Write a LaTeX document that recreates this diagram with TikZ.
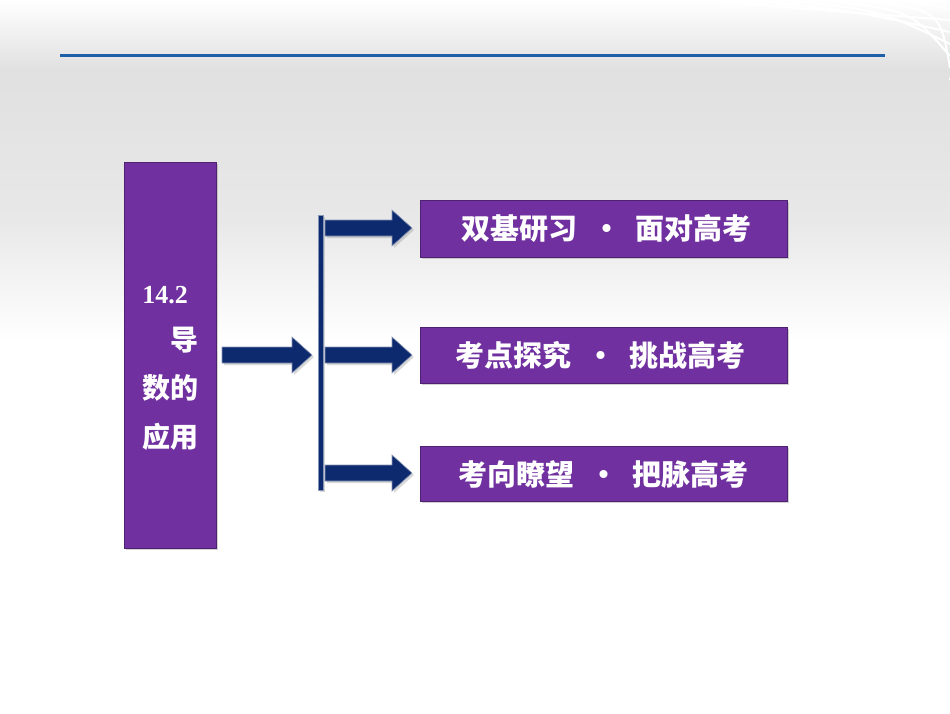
\documentclass[tikz,border=0pt]{standalone}
\usepackage{fontspec}
\setmainfont{Liberation Serif}
\newfontfamily\cjk{Noto Sans CJK SC}
\usetikzlibrary{shadows}
\definecolor{purp}{HTML}{7030A0}
\definecolor{navy}{HTML}{0E2A6E}
\definecolor{lineblue}{HTML}{1F5FA8}
\tikzset{
 pbox/.style={fill=purp,draw=purp!70!black,line width=0.8pt,drop shadow={opacity=0.35,shadow xshift=2pt,shadow yshift=-2pt}},
 ptext/.style={text=white,font=\cjk\bfseries\fontsize{28}{32}\selectfont},
 btext/.style={text=white,font=\cjk\bfseries\fontsize{29}{32}\selectfont},
 barrow/.style={fill=navy,draw=navy!50!white,line width=0.6pt,drop shadow={opacity=0.3,shadow xshift=2pt,shadow yshift=-2pt}}
}
\newcommand\blockarrow[3]{% x0, x1, y
 \path[barrow] (#1,#3-8) -- (#2-20,#3-8) -- (#2-20,#3-18) -- (#2,#3) -- (#2-20,#3+18) -- (#2-20,#3+8) -- (#1,#3+8) -- cycle;}
\begin{document}
\begin{tikzpicture}[x=1pt,y=-1pt]
\useasboundingbox (0,0) rectangle (950,713);
\shade[top color=white,bottom color=black!12] (0,0) rectangle (950,70);
\shade[top color=black!12,bottom color=black!9] (0,70) rectangle (950,220);
\shade[top color=black!9,bottom color=white] (0,220) rectangle (950,340);
\fill[white] (0,340) rectangle (950,713);
\foreach \i in {0,...,5}
 \draw[white,line width=2pt] (700+\i*40,0) .. controls (820+\i*30,10) .. (950,20+\i*12);
\draw[lineblue,line width=3pt] (60,55) coordinate (l1) -- (885,55) coordinate (l2);
\node[pbox,minimum width=92pt,minimum height=386pt,anchor=north west,inner sep=0pt] (main) at (124,162) {};
\node[text=white,font=\bfseries\fontsize{26}{28}\selectfont] (t1) at (165,295) {14.2};
\node[ptext] (t2) at (184,340) {导};
\node[ptext] (t3) at (170,388) {数的};
\node[ptext] (t4) at (170,437) {应用};
\blockarrow{222}{312}{355}
\path[barrow] (318,215) rectangle (323,490);
\blockarrow{325}{412}{228}
\blockarrow{325}{412}{355}
\blockarrow{325}{412}{473}
\node[pbox,minimum width=367pt,minimum height=57pt,anchor=north west,inner sep=0pt] (b1) at (420,200) {};
\node[pbox,minimum width=367pt,minimum height=56pt,anchor=north west,inner sep=0pt] (b2) at (420,327) {};
\node[pbox,minimum width=367pt,minimum height=55pt,anchor=north west,inner sep=0pt] (b3) at (420,446) {};
\node[btext] at ([xshift=3pt]b1.center) {双基研习\enspace·\enspace 面对高考};
\node[btext] at ([xshift=-3pt]b2.center) {考点探究\enspace·\enspace 挑战高考};
\node[btext] at (b3.center) {考向瞭望\enspace·\enspace 把脉高考};
\end{tikzpicture}
\end{document}
